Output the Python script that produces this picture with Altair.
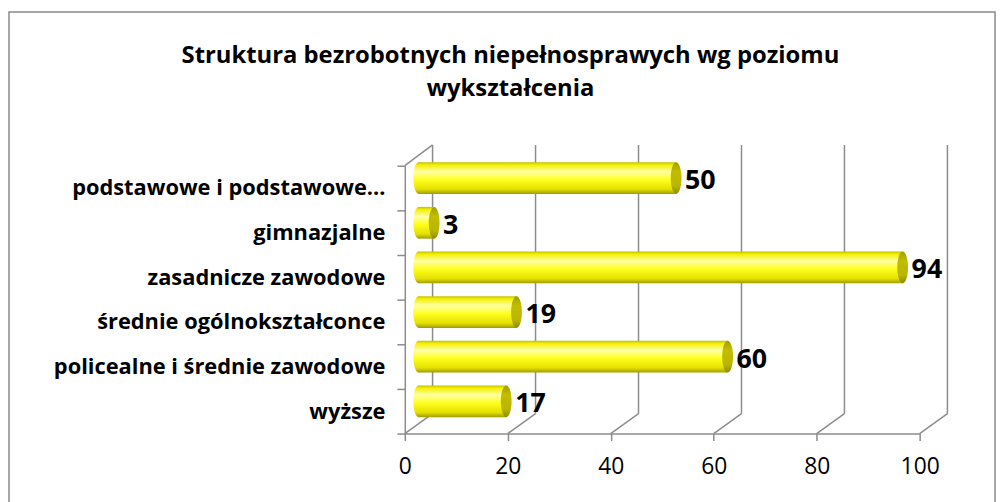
import altair as alt
import pandas as pd

categories = [
    "podstawowe i podstawowe…",
    "gimnazjalne",
    "zasadnicze zawodowe",
    "średnie ogólnokształconce",
    "policealne i średnie zawodowe",
    "wyższe",
]
values = [50, 3, 94, 19, 60, 17]
x_ticks = [0, 20, 40, 60, 80, 100]
title_lines = ["Struktura bezrobotnych niepełnosprawych wg poziomu", "wykształcenia"]

W, H = 519, 270
DX, DY = 28, 20      # depth of the back wall
BX, BY = 14, -10     # bars sit half way into the depth
GRAY = "#8c8c8c"
FONT = "Open Sans"
ELLIPSE = "M -0.34 0 A 0.34 1 0 1 0 0.34 0 A 0.34 1 0 1 0 -0.34 0 Z"

df = pd.DataFrame({"cat": categories, "val": values, "start": [0] * len(values)})
grid = pd.DataFrame({"t": x_ticks})

xscale = alt.Scale(domain=[0, 100], nice=False, zero=True)
yscale = alt.Scale(type="band", domain=categories, paddingInner=0, paddingOuter=0)

xaxis = alt.Axis(values=x_ticks, grid=False, domainColor=GRAY, domainWidth=1.5,
                 tickColor=GRAY, tickWidth=1.5, tickSize=7, labelFont=FONT,
                 labelFontSize=23, labelColor="#000000", labelPadding=15,
                 labelFlush=False, title=None)
yaxis = alt.Axis(grid=False, domainColor=GRAY, domainWidth=1.5, tickColor=GRAY,
                 tickWidth=1.5, tickSize=8, tickBand="extent", labelFont=FONT,
                 labelFontSize=22, labelFontWeight="bold", labelColor="#000000",
                 labelPadding=12, labelLimit=500, title=None)

X = lambda f: alt.X(f, type="quantitative", scale=xscale, axis=xaxis, title=None)
Y = alt.Y("cat:N", scale=yscale, axis=yaxis, sort=categories, title=None)

back = alt.Chart(grid).mark_rule(color=GRAY, strokeWidth=1.5, xOffset=DX).encode(
    x=X("t"), y=alt.value(-DY - 1), y2=alt.value(H - DY)
)
diag = alt.Chart(grid).mark_rule(color=GRAY, strokeWidth=1.5, x2Offset=DX).encode(
    x=X("t"), x2="t:Q", y=alt.value(H), y2=alt.value(H - DY)
)
topdiag = alt.Chart(grid).transform_filter("datum.t == 0").mark_rule(
    color=GRAY, strokeWidth=1.5, x2Offset=DX).encode(
    x=X("t"), x2="t:Q", y=alt.value(0), y2=alt.value(-DY - 1)
)

bar_grad = alt.Gradient(
    gradient="linear", x1=0, x2=0, y1=0, y2=1,
    stops=[
        alt.GradientStop(offset=0, color="#c4be00"),
        alt.GradientStop(offset=0.08, color="#f2ef00"),
        alt.GradientStop(offset=0.3, color="#ffffa6"),
        alt.GradientStop(offset=0.55, color="#ffff1e"),
        alt.GradientStop(offset=0.85, color="#e4e000"),
        alt.GradientStop(offset=1, color="#a09b00"),
    ],
)
cap_grad = alt.Gradient(
    gradient="linear", x1=0, x2=0, y1=0, y2=1,
    stops=[
        alt.GradientStop(offset=0, color="#a29d00"),
        alt.GradientStop(offset=0.3, color="#c2bd00"),
        alt.GradientStop(offset=0.75, color="#bab500"),
        alt.GradientStop(offset=1, color="#8f8a00"),
    ],
)

base = alt.Chart(df)
left_cap = base.mark_point(shape=ELLIPSE, size=1024, filled=True, fill=bar_grad,
                           opacity=1, strokeWidth=0, xOffset=BX, yOffset=BY).encode(
    x=X("start"), y=Y
)
bars = base.mark_bar(height=32, fill=bar_grad, xOffset=BX, x2Offset=BX, yOffset=BY).encode(
    x=X("val"), x2="start:Q", y=Y
)
right_cap = base.mark_point(shape=ELLIPSE, size=1024, filled=True, fill=cap_grad,
                            opacity=1, strokeWidth=0, xOffset=BX, yOffset=BY).encode(
    x=X("val"), y=Y
)
labels = base.mark_text(align="left", baseline="middle", dx=23, dy=-7, font=FONT,
                        fontSize=27, fontWeight="bold", color="#000000").encode(
    x=X("val"), y=Y, text="val:Q"
)

frame = alt.Chart(grid).transform_filter("datum.t == 0").mark_rect(
    fill=None, stroke="#8a8a8a", strokeWidth=1.5).encode(
    x=alt.value(-399), x2=alt.value(595), y=alt.value(-155), y2=alt.value(400)
)

chart = alt.layer(frame, back, diag, topdiag, left_cap, bars, right_cap, labels).properties(
    width=W, height=H,
    padding={"left": 400, "top": 157, "right": 81, "bottom": 67},
    autosize=alt.AutoSizeParams(type="none"),
    title=alt.TitleParams(text=title_lines, font=FONT, fontSize=24, fontWeight="bold",
                          color="#000000", anchor="middle", frame="group", dx=-153,
                          offset=-90, lineHeight=33),
    background="#ffffff",
).configure_view(stroke=None)

chart.save("out.html", embed_options={"renderer": "svg", "actions": False})
